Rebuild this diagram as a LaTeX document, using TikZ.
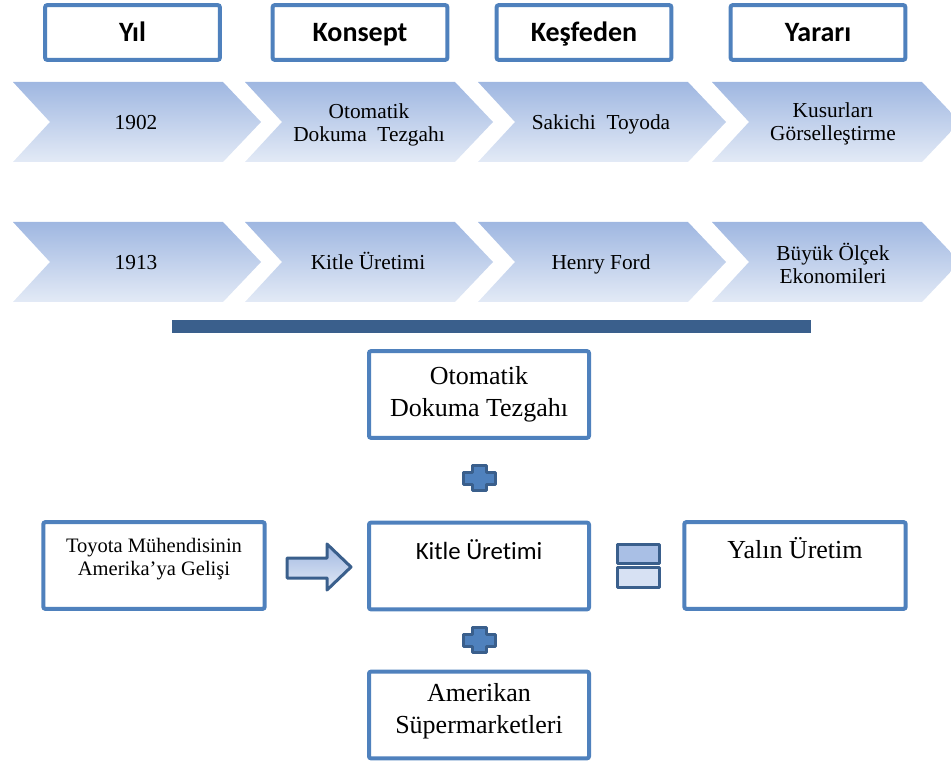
\documentclass[tikz,border=0pt]{standalone}
\usepackage{fontspec}
\setmainfont{Liberation Serif}
\newfontfamily\calibri[Ligatures=NoCommon]{Carlito}
\usetikzlibrary{calc}

\definecolor{boxblue}{HTML}{4F81BD}
\definecolor{darkblue}{HTML}{3A5F8C}
\definecolor{chevtop}{HTML}{9FB7E1}
\definecolor{chevbot}{HTML}{E3EAF6}
\definecolor{eqtop}{HTML}{A9BFE5}
\definecolor{eqbot}{HTML}{D7E1F3}

\tikzset{
  headbox/.style={draw=boxblue, line width=3pt, rounded corners=1.5pt, fill=white,
    minimum width=131pt, minimum height=41pt, inner sep=0pt,
    text height=13.5pt, text depth=0pt,
    font=\calibri\bfseries\fontsize{21}{24}\selectfont},
  chevtext/.style={align=center, inner sep=0pt, font=\fontsize{16}{17.25}\selectfont},
  chevone/.style={chevtext, text height=10.8pt, text depth=0pt},
  mainbox/.style={draw=boxblue, line width=3pt, rounded corners=1.5pt, fill=white,
    minimum width=165pt, minimum height=65pt, inner sep=0pt},
  bigtext/.style={align=center, inner sep=0pt, font=\fontsize{19.5}{24}\selectfont},
  symbolline/.style={draw=darkblue, line width=2.25pt, line join=round}
}

\begin{document}
\begin{tikzpicture}[x=0.75pt, y=-0.75pt]
  \useasboundingbox (0,0) rectangle (951,763);

  % header boxes
  \node[headbox] (yil) at (132.5,32.5) {Yıl};
  \node[headbox] (konsept) at (360,32.5) {Konsept};
  \node[headbox] (kesfeden) at (584,32.5) {Keşfeden};
  \node[headbox] (yarari) at (818,32.5) {Yararı};

  % chevron rows
  \foreach \y/\row in {82/a, 222/b} {
    \foreach \x in {13, 245, 478, 712} {
      \shade[top color=chevtop, bottom color=chevbot] (\x,\y) -- ++(210,0) -- ++(38,40) -- ++(-38,40) -- ++(-210,0) -- ++(37,-40) -- cycle;
    }
  }
  \node[chevone] (a1) at (136,122) {1902};
  \node[chevtext] (a2) at (369,125) {Otomatik\\Dokuma\ \ Tezgahı};
  \node[chevone] (a3) at (601,122) {Sakichi\ \ Toyoda};
  \node[chevtext] (a4) at (833,124) {Kusurları\\Görselleştirme};
  \node[chevone] (b1) at (136,262) {1913};
  \node[chevone] (b2) at (368,262) {Kitle Üretimi};
  \node[chevone] (b3) at (601,262) {Henry Ford};
  \node[chevtext] (b4) at (833,263) {Büyük Ölçek\\Ekonomileri};

  % dark bar
  \fill[darkblue] (172,320) rectangle (811,333);

  % middle part
  \node[mainbox] (dokuma) at (479,394.5) {};
  \node[bigtext] (dokumaT) at (dokuma) {Otomatik\\Dokuma Tezgahı};
  \node[mainbox] (kitle) at (479,566) {};
  \node[inner sep=0pt, font=\calibri\fontsize{18.6}{22}\selectfont] (kitleT) at ($(kitle.north)+(0,29)$) {Kitle Üretimi};
  \node[mainbox, minimum width=166pt] (toyota) at (154,565.5) {};
  \node[chevtext, font=\fontsize{15.4}{17.25}\selectfont] (toyotaT) at ($(toyota.north)+(0,39)$) {Toyota Mühendisinin\\Amerika’ya Gelişi};
  \node[mainbox, minimum width=166pt] (yalin) at (795,565.5) {};
  \node[bigtext] (yalinT) at ($(yalin.north)+(0,28)$) {Yalın Üretim};
  \node[mainbox] (amerikan) at (479,715) {};
  \node[bigtext] (amerikanT) at ($(amerikan)+(0,-4)$) {Amerikan\\Süpermarketleri};

  % plus signs
  \foreach \py in {478, 640} {
    \filldraw[symbolline, fill=boxblue] (472,\py-12.5) -- (486,\py-12.5) -- (486,\py-6) -- (495,\py-6) -- (495,\py+6) -- (486,\py+6) -- (486,\py+12.5) -- (472,\py+12.5) -- (472,\py+6) -- (463,\py+6) -- (463,\py-6) -- (472,\py-6) -- cycle;
  }

  % arrow
  \shade[top color=chevtop, bottom color=chevbot] (287,558) -- (327,558) -- (327,544) -- (351,567) -- (327,590) -- (327,578) -- (287,578) -- cycle;
  \draw[symbolline] (287,558) -- (327,558) -- (327,544) -- (351,567) -- (327,590) -- (327,578) -- (287,578) -- cycle;

  % equals sign
  \filldraw[symbolline, fill=eqtop] (617,544) rectangle (659,563);
  \filldraw[symbolline, fill=eqbot] (617,567) rectangle (659,587);
\end{tikzpicture}
\end{document}
